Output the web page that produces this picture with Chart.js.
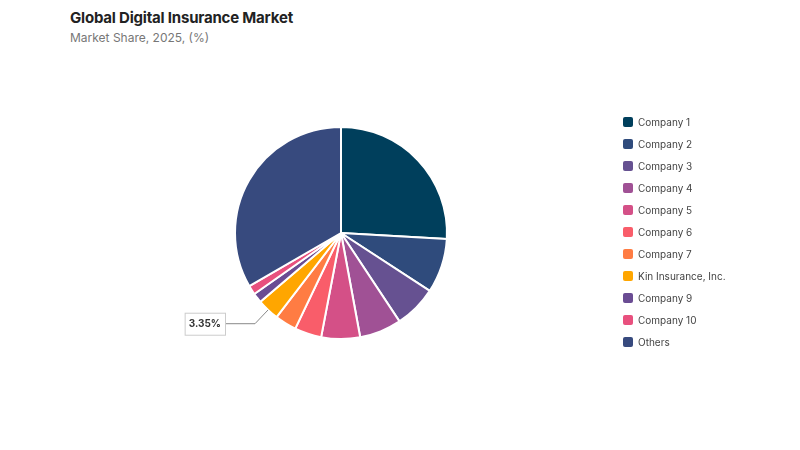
<!DOCTYPE html>
<html>
<head>
<meta charset="utf-8">
<script src="https://cdn.jsdelivr.net/npm/chart.js@4/dist/chart.umd.min.js"></script>
<style>
    html, body { margin: 0; padding: 0; background: #fff; }
    #wrap { position: relative; width: 800px; height: 450px; overflow: hidden; font-family: Inter, "Noto Sans", sans-serif; }
    #title { position: absolute; left: 70px; top: 8px; font-size: 15px; font-weight: 700; color: #222; letter-spacing: -0.2px; }
    #subtitle { position: absolute; left: 70px; top: 30px; font-size: 12px; color: #777; }
    #chart { position: absolute; left: 0; top: 0; }
    #legend { position: absolute; left: 623px; top: 111px; list-style: none; margin: 0; padding: 0; }
    #legend li { height: 22px; display: flex; align-items: center; font-size: 10px; color: #444; }
    #legend span.box { width: 10px; height: 10px; border-radius: 2px; margin-right: 5px; display: inline-block; }
</style>
</head>
<body>
<div id="wrap">
    <div id="title">Global Digital Insurance Market</div>
    <div id="subtitle">Market Share, 2025, (%)</div>
    <canvas id="chart" width="800" height="450"></canvas>
    <ul id="legend"></ul>
</div>
<script>
// chart data
var companies = ['Company 1', 'Company 2', 'Company 3', 'Company 4', 'Company 5', 'Company 6',
    'Company 7', 'Kin Insurance, Inc.', 'Company 9', 'Company 10', 'Others'];
var shares = [25.9, 8.3, 6.5, 6.4, 5.9, 4.1, 3.3, 3.35, 1.5, 1.4, 33.35];
var colors = ['#003f5c', '#2f4b7c', '#665191', '#a05195', '#d45087', '#f95d6a',
    '#ff7c43', '#ffa600', '#6a4c93', '#e8507e', '#374a7e'];
var labelled = 'Kin Insurance, Inc.';

// callout label for one slice
var calloutPlugin = {
    id: 'callout',
    afterDraw: function (chart) {
        var ctx = chart.ctx;
        var i = companies.indexOf(labelled);
        var arc = chart.getDatasetMeta(0).data[i];
        var mid = (arc.startAngle + arc.endAngle) / 2;
        var x0 = arc.x + Math.cos(mid) * arc.outerRadius;
        var y0 = arc.y + Math.sin(mid) * arc.outerRadius;
        var x1 = arc.x + Math.cos(mid) * (arc.outerRadius + 19);
        var y1 = arc.y + Math.sin(mid) * (arc.outerRadius + 19);
        var x2 = x1 - 30;

        ctx.save();
        ctx.strokeStyle = '#888';
        ctx.lineWidth = 1;
        ctx.beginPath();
        ctx.moveTo(x0, y0);
        ctx.lineTo(x1, y1);
        ctx.lineTo(x2, y1);
        ctx.stroke();

        var text = shares[i].toFixed(2) + '%';
        ctx.font = 'bold 10px Inter, "Noto Sans", sans-serif';
        var w = ctx.measureText(text).width + 8;
        var h = 22;
        ctx.fillStyle = '#fff';
        ctx.fillRect(x2 - w, y1 - h / 2, w, h);
        ctx.strokeStyle = '#ccc';
        ctx.strokeRect(x2 - w + 0.5, y1 - h / 2 + 0.5, w, h);
        ctx.fillStyle = '#333';
        ctx.textAlign = 'center';
        ctx.textBaseline = 'middle';
        ctx.fillText(text, x2 - w / 2, y1 + 0.5);
        ctx.restore();
    }
};

new Chart(document.getElementById('chart').getContext('2d'), {
    type: 'pie',
    data: {
        labels: companies,
        datasets: [{
            data: shares,
            backgroundColor: colors,
            borderColor: '#fff',
            borderWidth: 2
        }]
    },
    options: {
        responsive: false,
        animation: false,
        radius: 106,
        layout: { padding: { left: 0, right: 118, top: 16, bottom: 0 } },
        plugins: {
            legend: { display: false },
            tooltip: { enabled: false }
        }
    },
    plugins: [calloutPlugin]
});

// legend
var legend = document.getElementById('legend');
companies.forEach(function (name, i) {
    var li = document.createElement('li');
    li.innerHTML = '<span class="box" style="background:' + colors[i] + '"></span>' + name;
    legend.appendChild(li);
});
</script>
</body>
</html>
